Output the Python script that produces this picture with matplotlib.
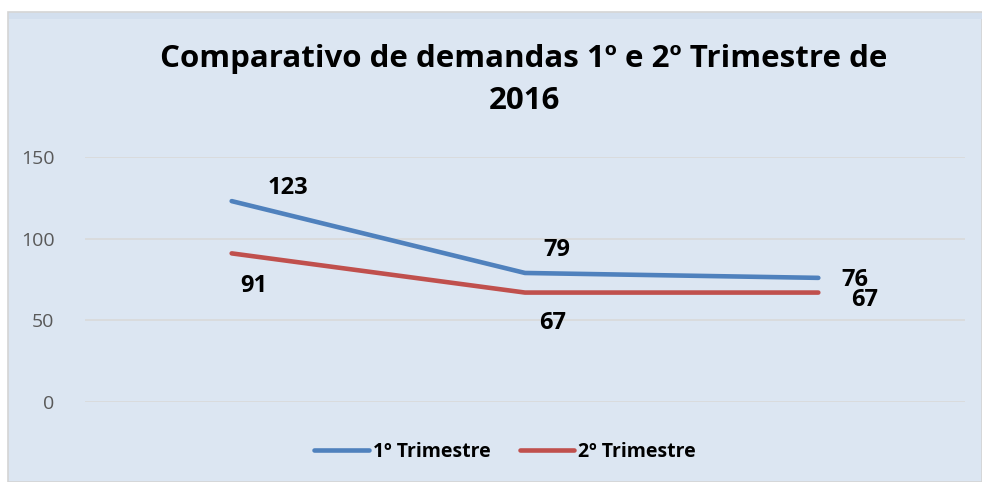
import numpy as np
import matplotlib
matplotlib.use("Agg")
import matplotlib.pyplot as plt
from matplotlib.patches import Rectangle

plt.rcParams['font.family'] = ['Open Sans', 'DejaVu Sans']

# data
trimestres = ['1º Trimestre', '2º Trimestre']
categorias = ['A', 'B', 'C']
valores_1 = [123, 79, 76]
valores_2 = [91, 67, 67]
yticks = [0, 50, 100, 150]

cor_1 = '#4F81BD'
cor_2 = '#C0504D'
fundo = '#DCE6F2'

fig = plt.figure(figsize=(9.82, 4.82), dpi=100)
fig.patch.set_facecolor('white')

# chart area background
fig.patches.append(Rectangle((8 / 982, 0), 1 - 8 / 982, 470 / 482, transform=fig.transFigure,
                             facecolor=fundo, edgecolor='#D4D4D4', linewidth=1.2, zorder=-2))
fig.patches.append(Rectangle((9 / 982, 463 / 482), 1 - 9 / 982, 6 / 482, transform=fig.transFigure,
                             facecolor='#D3DFEE', edgecolor='none', zorder=-1))

ax = fig.add_axes([85 / 982, 80 / 482, 880 / 982, 245 / 482])
ax.set_facecolor('none')
x = np.arange(len(categorias))

l1, = ax.plot(x, valores_1, color=cor_1, linewidth=3.3, solid_capstyle='round', label=trimestres[0], zorder=3)
l2, = ax.plot(x, valores_2, color=cor_2, linewidth=3.3, solid_capstyle='round', label=trimestres[1], zorder=3)

ax.set_xlim(-0.5, 2.5)
ax.set_ylim(0, 150)
ax.set_yticks(yticks)
ax.set_xticks([])
ax.grid(axis='y', color='#D9D9D9', linewidth=1.2)
ax.set_axisbelow(True)
for s in ax.spines.values():
    s.set_visible(False)
ax.tick_params(axis='y', length=0, labelsize=14, labelcolor='#595959', pad=22)

# data labels (pixel offsets)
off_1 = [(56, 13), (32, 23), (37, -2)]
off_2 = [(22, -33), (28, -30), (46, -7)]
for i in range(len(categorias)):
    ax.annotate(str(valores_1[i]), (x[i], valores_1[i]), xytext=off_1[i], textcoords='offset pixels',
                ha='center', va='center', fontsize=17, fontweight='bold', color='black', zorder=4)
    ax.annotate(str(valores_2[i]), (x[i], valores_2[i]), xytext=off_2[i], textcoords='offset pixels',
                ha='center', va='center', fontsize=17, fontweight='bold', color='black', zorder=4)

fig.text(524 / 982, 1 - 80 / 482, 'Comparativo de demandas 1º e 2º Trimestre de\n2016',
         ha='center', va='center', fontsize=22.5, fontweight='bold', linespacing=1.5)

fig.legend(handles=[l1, l2], loc='center', bbox_to_anchor=(505 / 982, 30 / 482), ncol=2,
           frameon=False, prop={'size': 14, 'weight': 'bold'}, handlelength=2.8,
           handletextpad=0.2, columnspacing=1.5)

fig.savefig('out.png', dpi=100, facecolor=fig.get_facecolor())
